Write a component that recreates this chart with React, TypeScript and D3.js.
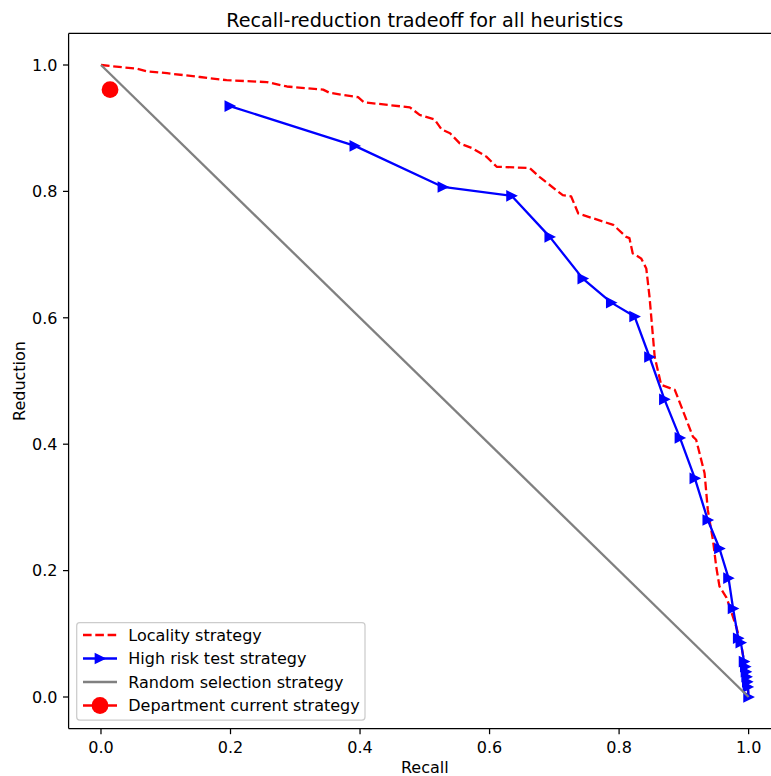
import React from "react";
import * as d3 from "d3";

// Locality strategy curve (recall, reduction)
const localityRecall = [
  0, 0.056, 0.071, 0.102, 0.153, 0.194, 0.256, 0.287, 0.343, 0.353, 0.397, 0.406,
  0.477, 0.492, 0.515, 0.526, 0.539, 0.554, 0.574, 0.595, 0.611, 0.662, 0.677,
  0.713, 0.726, 0.737, 0.791, 0.811, 0.816, 0.821, 0.834, 0.842, 0.847, 0.855,
  0.865, 0.886, 0.894, 0.914, 0.919, 0.932, 0.937, 0.945, 0.95, 0.955, 0.966,
  0.981, 0.989, 0.997, 1.0,
];
const localityReduction = [
  1.0, 0.994, 0.99, 0.987, 0.981, 0.976, 0.973, 0.966, 0.961, 0.956, 0.949, 0.941,
  0.933, 0.921, 0.914, 0.898, 0.892, 0.876, 0.868, 0.855, 0.839, 0.837, 0.823,
  0.794, 0.792, 0.765, 0.747, 0.728, 0.726, 0.702, 0.694, 0.678, 0.633, 0.538,
  0.494, 0.486, 0.465, 0.412, 0.407, 0.354, 0.296, 0.248, 0.206, 0.175, 0.157,
  0.111, 0.08, 0.032, 0.0,
];

// High risk test strategy (recall, reduction)
const highRiskRecall = [
  0.199, 0.392, 0.528, 0.634, 0.693, 0.744, 0.788, 0.824, 0.847, 0.87, 0.894, 0.917,
  0.937, 0.955, 0.969, 0.976, 0.984, 0.988, 0.993, 0.995, 0.996, 0.997, 0.998,
  0.999, 1.0,
];
const highRiskReduction = [
  0.935, 0.872, 0.807, 0.793, 0.728, 0.662, 0.624, 0.602, 0.538, 0.471, 0.41, 0.346,
  0.28, 0.235, 0.188, 0.14, 0.093, 0.086, 0.056, 0.048, 0.04, 0.032, 0.024, 0.016,
  0.0,
];

// Random selection baseline
const randomRecall = [0, 1];
const randomReduction = [1, 0];

// Department's current operating point
const departmentRecall = [0.014];
const departmentReduction = [0.961];

const tickValues = [0, 0.2, 0.4, 0.6, 0.8, 1.0];
const legendLabels = [
  "Locality strategy",
  "High risk test strategy",
  "Random selection strategy",
  "Department current strategy",
];

const W = 771;
const H = 776;
const FONT = "DejaVu Sans, sans-serif";
const FS = 16; // tick / label / legend font size
const TITLE_FS = 19.2;

const plot = { left: 68.6, right: 781, top: 33.4, bottom: 728.6 };

export default function App() {
  const x = d3.scaleLinear().domain([-0.05, 1.05]).range([plot.left, plot.right]);
  const y = d3.scaleLinear().domain([-0.05, 1.05]).range([plot.bottom, plot.top]);

  const line = d3
    .line<[number, number]>()
    .x((d) => x(d[0]))
    .y((d) => y(d[1]));

  const locality = localityRecall.map((r, i) => [r, localityReduction[i]] as [number, number]);
  const highRisk = highRiskRecall.map((r, i) => [r, highRiskReduction[i]] as [number, number]);
  const random = randomRecall.map((r, i) => [r, randomReduction[i]] as [number, number]);
  const department = departmentRecall.map((r, i) => [r, departmentReduction[i]] as [number, number]);

  const lw = 2.3;
  const dash = "8.6,3.7";
  const tri = 4.6; // half-size of the right-pointing triangle marker
  const triPath = `M${tri},0L${-tri},${tri}L${-tri},${-tri}Z`;
  const tickLen = 5.6;
  const spineW = 1.25;

  const legendX = 76.7;
  const legendY = 622.7;
  const rowY = [635, 658.5, 682, 705.5];
  const hx0 = 83;
  const hx1 = 117;
  const hxc = (hx0 + hx1) / 2;

  return (
    <svg
      width={W}
      height={H}
      style={{ position: "absolute", left: 0, top: 0, background: "#fff" }}
      fontFamily={FONT}
    >
      <rect x={0} y={0} width={W} height={H} fill="#fff" />
      <defs>
        <clipPath id="plot-clip">
          <rect x={plot.left} y={plot.top} width={plot.right - plot.left} height={plot.bottom - plot.top} />
        </clipPath>
      </defs>

      <g clipPath="url(#plot-clip)">
        <path
          d={line(locality) ?? ""}
          fill="none"
          stroke="#ff0000"
          strokeWidth={lw}
          strokeDasharray={dash}
          strokeLinejoin="round"
        />
        <path d={line(highRisk) ?? ""} fill="none" stroke="#0000ff" strokeWidth={lw} strokeLinejoin="round" />
        {highRisk.map((d, i) => (
          <path
            key={i}
            d={triPath}
            transform={`translate(${x(d[0])},${y(d[1])})`}
            fill="#0000ff"
            stroke="#0000ff"
            strokeWidth={1.5}
          />
        ))}
        <path d={line(random) ?? ""} fill="none" stroke="#808080" strokeWidth={lw} />
        {department.map((d, i) => (
          <circle key={i} cx={x(d[0])} cy={y(d[1])} r={8.4} fill="#ff0000" />
        ))}
      </g>

      {/* spines */}
      <g stroke="#000" strokeWidth={spineW} fill="none">
        <line x1={plot.left} x2={plot.left} y1={plot.top} y2={plot.bottom} />
        <line x1={plot.right} x2={plot.right} y1={plot.top} y2={plot.bottom} />
        <line x1={plot.left} x2={plot.right} y1={plot.top} y2={plot.top} />
        <line x1={plot.left} x2={plot.right} y1={plot.bottom} y2={plot.bottom} />
      </g>

      {/* x ticks */}
      {tickValues.map((t) => (
        <g key={`x${t}`}>
          <line x1={x(t)} x2={x(t)} y1={plot.bottom} y2={plot.bottom + tickLen} stroke="#000" strokeWidth={spineW} />
          <text x={x(t)} y={752.5} fontSize={FS} textAnchor="middle" fill="#000">
            {t.toFixed(1)}
          </text>
        </g>
      ))}

      {/* y ticks */}
      {tickValues.map((t) => (
        <g key={`y${t}`}>
          <line x1={plot.left - tickLen} x2={plot.left} y1={y(t)} y2={y(t)} stroke="#000" strokeWidth={spineW} />
          <text x={57.5} y={y(t) + 5.8} fontSize={FS} textAnchor="end" fill="#000">
            {t.toFixed(1)}
          </text>
        </g>
      ))}

      <text x={(plot.left + plot.right) / 2} y={26.5} fontSize={TITLE_FS} textAnchor="middle" fill="#000">
        Recall-reduction tradeoff for all heuristics
      </text>
      <text x={(plot.left + plot.right) / 2} y={773} fontSize={FS} textAnchor="middle" fill="#000">
        Recall
      </text>
      <text
        transform={`translate(24.5,${(plot.top + plot.bottom) / 2}) rotate(-90)`}
        fontSize={FS}
        textAnchor="middle"
        fill="#000"
      >
        Reduction
      </text>

      {/* legend */}
      <g>
        <rect
          x={legendX}
          y={legendY}
          width={288.3}
          height={97.3}
          rx={3}
          fill="#fff"
          fillOpacity={0.8}
          stroke="#cccccc"
          strokeWidth={1.25}
        />
        <line x1={hx0} x2={hx1} y1={rowY[0]} y2={rowY[0]} stroke="#ff0000" strokeWidth={lw} strokeDasharray={dash} />
        <line x1={hx0} x2={hx1} y1={rowY[1]} y2={rowY[1]} stroke="#0000ff" strokeWidth={lw} />
        <path d={triPath} transform={`translate(${hxc},${rowY[1]})`} fill="#0000ff" stroke="#0000ff" strokeWidth={1.5} />
        <line x1={hx0} x2={hx1} y1={rowY[2]} y2={rowY[2]} stroke="#808080" strokeWidth={lw} />
        <line x1={hx0} x2={hx1} y1={rowY[3]} y2={rowY[3]} stroke="#ff0000" strokeWidth={lw} />
        <circle cx={hxc} cy={rowY[3]} r={8.4} fill="#ff0000" />
        {legendLabels.map((l, i) => (
          <text key={l} x={128.3} y={rowY[i] + 5.8} fontSize={FS} fill="#000">
            {l}
          </text>
        ))}
      </g>
    </svg>
  );
}
